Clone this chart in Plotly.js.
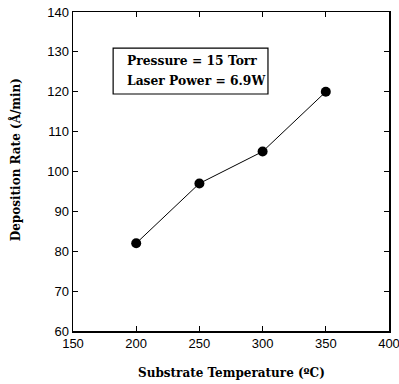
<!DOCTYPE html>
<html><head><meta charset="utf-8">
<script src="https://cdn.plot.ly/plotly-3.0.1.min.js"></script>
<style>body{margin:0;background:#fff}#c{width:399px;height:384px}</style>
</head><body><div id="c"></div>
<script>
const temperature = [200, 250, 300, 350];
const depositionRate = [82, 97, 105, 120];
const xTicks = [150, 200, 250, 300, 350, 400];
const yTicks = [60, 70, 80, 90, 100, 110, 120, 130, 140];
const infoLines = ["Pressure = 15 Torr", "Laser Power = 6.9W"];
const xTitle = "Substrate Temperature (ºC)";
const yTitle = "Deposition Rate (Å/min)";

const serif = "DejaVu Serif";
const trace = {
  x: temperature, y: depositionRate, type: "scatter", mode: "lines+markers",
  line: {color: "#000", width: 1},
  marker: {color: "#000", size: 10},
  cliponaxis: false
};
const axisCommon = {
  ticks: "inside", ticklen: 5, tickcolor: "#000", mirror: "ticks",
  showline: true, linecolor: "#000", linewidth: 1.5, showgrid: false, zeroline: false,
  ticklabeloverflow: "allow",
  tickfont: {family: "Liberation Sans", size: 13, color: "#000"}
};
const titleFont = {family: serif, size: 12, color: "#000", weight: "bold"};
const layout = {
  width: 399, height: 384,
  margin: {l: 73, r: 10, t: 12, b: 53},
  paper_bgcolor: "#fff", plot_bgcolor: "#fff",
  showlegend: false,
  xaxis: Object.assign({range: [150, 400], tickvals: xTicks, ticktext: xTicks.map(String)}, axisCommon),
  yaxis: Object.assign({range: [60, 140], tickvals: yTicks, ticktext: yTicks.map(String)}, axisCommon),
  shapes: [{type: "rect", xref: "paper", yref: "paper", x0: 0.127, x1: 0.617, y0: 0.743, y1: 0.887,
    line: {color: "#000", width: 1.2}}],
  annotations: infoLines.map((t, i) => ({
    text: t, xref: "paper", yref: "paper", x: 0.164, y: 0.848 - i * 0.063,
    xanchor: "left", yanchor: "middle", showarrow: false,
    font: {family: serif, size: 12.3, color: "#000", weight: "bold"}
  })).concat([
    {text: xTitle, xref: "paper", yref: "paper", x: 0.502, y: -0.132,
     xanchor: "center", yanchor: "middle", showarrow: false, font: titleFont},
    {text: yTitle, xref: "paper", yref: "paper", x: -0.183, y: 0.536, textangle: -90,
     xanchor: "center", yanchor: "middle", showarrow: false, font: titleFont}
  ])
};
Plotly.newPlot("c", [trace], layout, {displayModeBar: false, staticPlot: true});
</script></body></html>
